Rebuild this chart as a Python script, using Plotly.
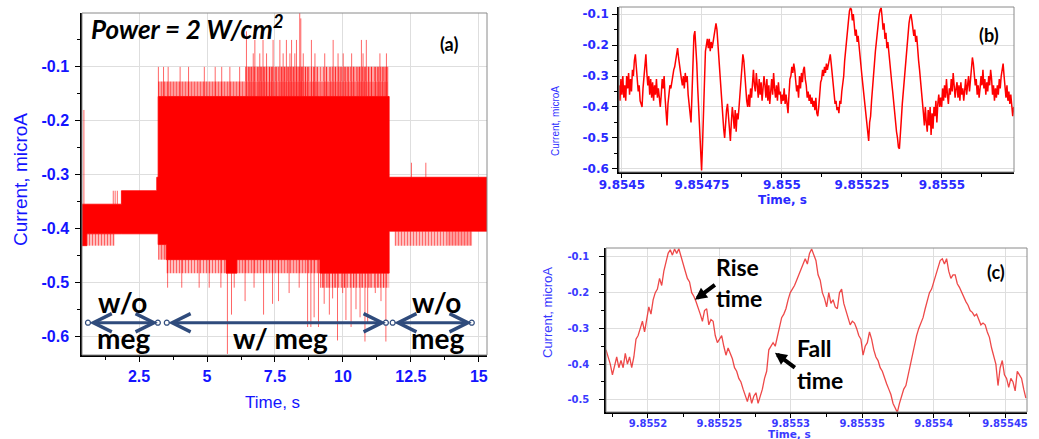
import numpy as np
import plotly.graph_objects as go

W, H = 1039, 439

# ---------------- (a) whole record at 2 W/cm^2 ----------------
# solid envelope of the current trace, as steps starting at each x
a_band_x = [0.40, 0.58, 1.85, 3.15, 3.20, 3.50, 5.70, 6.10, 9.15, 11.70, 15.30]
a_band_top = [-0.355, -0.355, -0.330, -0.305, -0.155, -0.155, -0.155, -0.155, -0.155, -0.305, -0.305]
a_band_bot = [-0.432, -0.410, -0.410, -0.410, -0.430, -0.458, -0.483, -0.458, -0.483, -0.405, -0.405]

# zones densely crossed by short excursions beyond the solid envelope
a_haze_x0 = [3.20, 6.40, 6.40, 8.80, 9.60, 3.20, 3.50, 6.10, 9.15, 0.58, 11.90, 13.80]
a_haze_x1 = [6.40, 11.65, 8.80, 9.60, 11.65, 3.50, 5.70, 9.15, 11.70, 1.60, 13.80, 14.75]
a_haze_lo = [-0.155, -0.155, -0.127, -0.127, -0.127, -0.458, -0.483, -0.483, -0.510, -0.432, -0.432, -0.432]
a_haze_hi = [-0.127, -0.127, -0.100, -0.100, -0.100, -0.430, -0.458, -0.458, -0.483, -0.410, -0.405, -0.405]
a_haze_alpha = [0.60, 0.85, 0.55, 0.30, 0.50, 0.50, 0.35, 0.50, 0.30, 0.35, 0.30, 0.60]

# isolated spikes (time, extreme current)
a_spike_x = [0.47, 1.55, 1.62, 1.70, 12.52, 13.05,
             3.21, 3.40, 3.57, 4.01, 4.32, 4.90, 5.30, 5.54, 5.84, 6.20, 6.55, 6.62, 6.88, 7.00,
             7.12, 7.30, 7.37, 7.55, 7.75, 7.86, 8.00, 8.17, 8.35, 8.48, 8.62, 8.70, 8.92, 9.05,
             9.40, 9.55, 9.72, 9.90, 10.10, 10.20, 10.40, 10.55, 10.62, 10.80, 10.95, 11.05, 11.20,
             11.30, 11.45, 11.55, 11.65,
             6.70, 6.94, 7.19, 7.80, 8.05, 8.23, 8.54, 8.97, 9.33, 9.82, 10.01, 10.32, 10.74, 11.36, 11.60,
             6.76, 7.06, 7.43, 7.68, 7.92, 8.11, 8.29, 8.84, 9.64, 10.68, 10.86,
             6.45, 8.41, 8.45,
             3.55, 4.07, 4.71, 5.08, 5.51, 5.75, 5.90, 6.00, 6.40, 6.73, 7.08, 7.41, 7.63, 8.02, 8.39,
             8.70, 8.82, 8.94, 9.10, 9.31, 9.50, 9.62, 9.80, 9.99, 10.11, 10.30, 10.48, 10.63, 10.81,
             10.91, 11.19, 11.40, 11.58, 9.25, 9.45, 9.70, 10.05, 10.40, 10.70, 11.00, 11.30, 11.50]
a_spike_tip = [-0.18, -0.33, -0.33, -0.33, -0.278, -0.278,
               -0.10, -0.10, -0.10, -0.10, -0.10, -0.10, -0.10, -0.10, -0.10, -0.10, -0.10, -0.10, -0.10, -0.10,
               -0.10, -0.10, -0.10, -0.10, -0.10, -0.10, -0.10, -0.10, -0.10, -0.10, -0.10, -0.10, -0.10, -0.10,
               -0.10, -0.10, -0.10, -0.10, -0.10, -0.10, -0.10, -0.10, -0.10, -0.10, -0.10, -0.10, -0.10,
               -0.10, -0.10, -0.10, -0.10,
               -0.075, -0.075, -0.075, -0.075, -0.075, -0.075, -0.075, -0.075, -0.075, -0.075, -0.075, -0.075,
               -0.075, -0.075, -0.075,
               -0.05, -0.05, -0.05, -0.05, -0.05, -0.05, -0.05, -0.05, -0.05, -0.05, -0.05,
               -0.034, 0.0, -0.01,
               -0.51, -0.51, -0.51, -0.51, -0.51, -0.633, -0.56, -0.51, -0.535, -0.51, -0.56, -0.54, -0.535,
               -0.52, -0.51, -0.583, -0.583, -0.565, -0.583, -0.54, -0.56, -0.53, -0.608, -0.52, -0.57,
               -0.583, -0.55, -0.565, -0.61, -0.575, -0.52, -0.535, -0.61,
               -0.51, -0.51, -0.51, -0.51, -0.51, -0.51, -0.51, -0.51, -0.51]

a_xticks = [2.5, 5, 7.5, 10, 12.5, 15]
a_xlabels = ["2.5", "5", "7.5", "10", "12.5", "15"]
a_xminor = [1.25, 3.75, 6.25, 8.75, 11.25, 13.75]
a_yticks = [-0.1, -0.2, -0.3, -0.4, -0.5, -0.6]
a_ylabels = ["-0.1", "-0.2", "-0.3", "-0.4", "-0.5", "-0.6"]
a_yminor = [-0.05, -0.15, -0.25, -0.35, -0.45, -0.55]

# phases of the record: (start, end) in seconds
a_phase_start = [0.62, 3.52, 11.83]
a_phase_end = [3.19, 11.58, 14.74]
a_phase_level = -0.575

# ---------------- (b) zoom, 3 us sampling ----------------
b_t0 = 9.854491
b_dt = 3e-6
b_current = [
    -0.33, -0.38, -0.31, -0.36, -0.30, -0.37, -0.33, -0.38, -0.30, -0.34,
    -0.29, -0.36, -0.31, -0.35, -0.28, -0.30, -0.25, -0.23, -0.27, -0.30,
    -0.35, -0.33, -0.38, -0.39, -0.40, -0.34, -0.30, -0.26, -0.23, -0.29,
    -0.33, -0.30, -0.36, -0.31, -0.37, -0.32, -0.38, -0.33, -0.36, -0.31,
    -0.37, -0.34, -0.38, -0.40, -0.36, -0.31, -0.34, -0.30, -0.37, -0.41,
    -0.46, -0.39, -0.35, -0.33, -0.34, -0.31, -0.30, -0.28, -0.27, -0.25,
    -0.22, -0.21, -0.24, -0.27, -0.29, -0.31, -0.33, -0.30, -0.34, -0.29,
    -0.32, -0.30, -0.36, -0.40, -0.44, -0.45, -0.36, -0.25, -0.17,
    -0.155, -0.20, -0.26, -0.34, -0.41, -0.47, -0.53, -0.605, -0.52, -0.40,
    -0.27, -0.22, -0.20, -0.18, -0.21, -0.18, -0.22, -0.19, -0.21, -0.19,
    -0.17, -0.15, -0.13, -0.15, -0.20, -0.24, -0.28, -0.33, -0.38, -0.43,
    -0.47, -0.50, -0.45, -0.41, -0.39, -0.44, -0.49, -0.51, -0.45, -0.40,
    -0.43, -0.47, -0.41, -0.48, -0.42, -0.44, -0.40, -0.36, -0.30, -0.26,
    -0.23, -0.25, -0.30, -0.33, -0.38, -0.40, -0.36, -0.40, -0.34,
    -0.37, -0.31, -0.28, -0.33, -0.35, -0.29, -0.33, -0.37, -0.31, -0.36,
    -0.32, -0.38, -0.34, -0.30, -0.33, -0.37, -0.31, -0.38, -0.33, -0.39,
    -0.35, -0.31, -0.36, -0.29, -0.34, -0.37, -0.33, -0.38, -0.32, -0.36,
    -0.35, -0.39, -0.36, -0.38, -0.34, -0.39, -0.36, -0.40, -0.42, -0.36,
    -0.31, -0.30, -0.27, -0.29, -0.26, -0.28, -0.31, -0.35, -0.33, -0.37,
    -0.30, -0.34, -0.29, -0.32, -0.28, -0.27, -0.31, -0.33, -0.37, -0.35,
    -0.38, -0.36, -0.39, -0.37, -0.40, -0.38, -0.41, -0.37, -0.42, -0.43,
    -0.40, -0.35, -0.32, -0.31, -0.28, -0.30, -0.27, -0.29, -0.26, -0.28,
    -0.26, -0.24, -0.23, -0.26, -0.30, -0.34, -0.37, -0.39, -0.38, -0.41,
    -0.40, -0.42, -0.38, -0.39, -0.35, -0.33, -0.30, -0.25, -0.21, -0.19,
    -0.15, -0.12, -0.09, -0.08, -0.085, -0.12, -0.10, -0.15, -0.17, -0.15,
    -0.19, -0.17, -0.21, -0.24, -0.27, -0.30, -0.33, -0.36, -0.38, -0.42,
    -0.45, -0.49, -0.51, -0.45, -0.43, -0.38, -0.33, -0.29, -0.26, -0.22,
    -0.19, -0.16, -0.12, -0.10, -0.085, -0.08, -0.11, -0.15, -0.13, -0.18,
    -0.16, -0.21, -0.19, -0.23, -0.27, -0.29, -0.32, -0.35, -0.39, -0.42,
    -0.45, -0.48, -0.50, -0.53, -0.535, -0.50, -0.44, -0.39, -0.35, -0.30,
    -0.26, -0.22, -0.19, -0.16, -0.13, -0.11, -0.10, -0.12, -0.14, -0.17,
    -0.15, -0.19, -0.17, -0.22, -0.25, -0.28, -0.31, -0.35, -0.39, -0.42,
    -0.46, -0.40, -0.45, -0.48, -0.41, -0.46, -0.40, -0.49, -0.42, -0.47,
    -0.40, -0.43, -0.38, -0.45, -0.39, -0.36, -0.40, -0.37, -0.40, -0.34,
    -0.38, -0.33, -0.37, -0.31, -0.36, -0.39, -0.34, -0.36, -0.31, -0.35,
    -0.29, -0.33, -0.37, -0.34, -0.32, -0.37, -0.33, -0.38, -0.32, -0.36,
    -0.34, -0.38, -0.35, -0.31, -0.36, -0.33, -0.30, -0.35, -0.32, -0.27,
    -0.24, -0.26, -0.30, -0.33, -0.31, -0.36, -0.33, -0.37, -0.34, -0.30,
    -0.33, -0.28, -0.34, -0.31, -0.36, -0.32, -0.35, -0.30, -0.33, -0.28,
    -0.31, -0.36, -0.33, -0.38, -0.34, -0.37, -0.33, -0.36, -0.31, -0.34,
    -0.30, -0.27, -0.26, -0.30, -0.34, -0.37, -0.33, -0.38, -0.35, -0.39,
    -0.36, -0.41, -0.43, -0.40,
]
b_xticks = [9.8545, 9.85475, 9.855, 9.85525, 9.8555]
b_xlabels = ["9.8545", "9.85475", "9.855", "9.85525", "9.8555"]
b_xminor = [9.854625, 9.854875, 9.855125, 9.855375, 9.855625]
b_yticks = [-0.1, -0.2, -0.3, -0.4, -0.5, -0.6]
b_ylabels = ["-0.1", "-0.2", "-0.3", "-0.4", "-0.5", "-0.6"]
b_yminor = [-0.15, -0.25, -0.35, -0.45, -0.55]

# ---------------- (c) closer zoom, 1.5 us sampling ----------------
c_t0 = 9.8551706
c_dt = 1.5e-6
c_current = [
    -0.36, -0.38, -0.40, -0.43, -0.40, -0.38, -0.41, -0.39, -0.41, -0.37,
    -0.40, -0.38, -0.41, -0.38, -0.33, -0.32, -0.30, -0.28, -0.31, -0.28,
    -0.24, -0.26, -0.22, -0.20, -0.19, -0.16, -0.18, -0.14, -0.11, -0.09,
    -0.08, -0.095, -0.078, -0.09, -0.077, -0.10, -0.12, -0.14, -0.16, -0.17,
    -0.20, -0.21, -0.225, -0.24, -0.26, -0.28, -0.25, -0.245, -0.29, -0.275,
    -0.28, -0.32, -0.34, -0.33, -0.32, -0.35, -0.375, -0.355, -0.37, -0.385,
    -0.41, -0.42, -0.44, -0.45, -0.47, -0.49, -0.505, -0.48, -0.51, -0.49,
    -0.48, -0.51, -0.49, -0.47, -0.44, -0.42, -0.36, -0.35, -0.34, -0.35,
    -0.32, -0.30, -0.27, -0.26, -0.245, -0.22, -0.20, -0.19, -0.18, -0.165,
    -0.15, -0.14, -0.125, -0.105, -0.12, -0.09, -0.078, -0.097, -0.11, -0.15,
    -0.165, -0.20, -0.216, -0.24, -0.20, -0.23, -0.22, -0.24, -0.245, -0.20,
    -0.19, -0.23, -0.25, -0.27, -0.29, -0.28, -0.285, -0.30, -0.32, -0.33,
    -0.375, -0.35, -0.34, -0.31, -0.33, -0.36, -0.38, -0.39, -0.41, -0.42,
    -0.44, -0.455, -0.47, -0.485, -0.51, -0.525, -0.535, -0.51, -0.49, -0.47,
    -0.46, -0.43, -0.40, -0.375, -0.34, -0.32, -0.30, -0.285, -0.27, -0.245,
    -0.22, -0.20, -0.19, -0.17, -0.15, -0.125, -0.11, -0.105, -0.12, -0.105,
    -0.14, -0.16, -0.15, -0.15, -0.175, -0.185, -0.20, -0.21, -0.225, -0.235,
    -0.25, -0.255, -0.265, -0.26, -0.275, -0.29, -0.285, -0.29, -0.31, -0.325,
    -0.355, -0.38, -0.40, -0.46, -0.41, -0.39, -0.43, -0.44, -0.465, -0.44,
    -0.45, -0.475, -0.42, -0.43, -0.44, -0.47, -0.495,
]
c_xticks = [9.8552, 9.85525, 9.8553, 9.85535, 9.8554, 9.85545]
c_xlabels = ["9.8552", "9.85525", "9.8553", "9.85535", "9.8554", "9.85545"]
c_xminor = [9.855175, 9.855225, 9.855275, 9.855325, 9.855375, 9.855425]
c_yticks = [-0.1, -0.2, -0.3, -0.4, -0.5]
c_ylabels = ["-0.1", "-0.2", "-0.3", "-0.4", "-0.5"]
c_yminor = [-0.15, -0.25, -0.35, -0.45]

# callouts on (c): arrow tip (t, I) and arrow tail (t, I)
c_call_tip_t = [9.8552329, 9.8552889]
c_call_tip_i = [-0.220, -0.368]
c_call_tail_t = [9.8552479, 9.8553039]
c_call_tail_i = [-0.175, -0.413]


def px(x):
    return x / W


def py(y):
    return 1 - y / H


fig = go.Figure()

# ---- panel (a) ----
fig.add_trace(go.Scatter(x=a_band_x, y=a_band_bot, mode="lines",
                         line=dict(color="#ff0000", width=0.8, shape="hv"),
                         xaxis="x", yaxis="y", hoverinfo="skip"))
fig.add_trace(go.Scatter(x=a_band_x, y=a_band_top, mode="lines",
                         line=dict(color="#ff0000", width=0.8, shape="hv"),
                         fill="tonexty", fillcolor="#ff0000",
                         xaxis="x", yaxis="y", hoverinfo="skip"))
for x0, x1, lo, hi, al in zip(a_haze_x0, a_haze_x1, a_haze_lo, a_haze_hi, a_haze_alpha):
    fig.add_trace(go.Scatter(x=[x0, x1, x1, x0, x0], y=[lo, lo, hi, hi, lo],
                             mode="lines", line=dict(width=0), fill="toself",
                             fillcolor="rgba(255,255,255,0)",
                             fillpattern=dict(shape="|", size=3, solidity=al,
                                              fgcolor="#ff0000",
                                              bgcolor="rgba(255,0,0,0.25)"),
                             xaxis="x", yaxis="y", hoverinfo="skip"))

band_x = np.array(a_band_x)
band_top = np.array(a_band_top)
band_bot = np.array(a_band_bot)
sx, sy = [], []
for x, tip in zip(a_spike_x, a_spike_tip):
    k = int(np.searchsorted(band_x, x, side="right") - 1)
    base = band_top[k] if tip > band_top[k] else band_bot[k]
    sx += [x, x, None]
    sy += [base, tip, None]
fig.add_trace(go.Scatter(x=sx, y=sy, mode="lines",
                         line=dict(color="rgba(255,0,0,0.6)", width=1),
                         xaxis="x", yaxis="y", hoverinfo="skip"))

# phase markers: double arrows with small end rings
ring_x = []
for x0, x1 in zip(a_phase_start, a_phase_end):
    ring_x += [x0, x1]
fig.add_trace(go.Scatter(x=ring_x, y=[a_phase_level] * len(ring_x), mode="markers",
                         marker=dict(symbol="circle", size=5, color="white",
                                     line=dict(color="#2f4b7c", width=1.2)),
                         xaxis="x", yaxis="y", hoverinfo="skip"))

# ---- panel (b) ----
b_t = b_t0 + b_dt * np.arange(len(b_current))
fig.add_trace(go.Scatter(x=b_t, y=b_current, mode="lines",
                         line=dict(color="#ff0000", width=1.5),
                         xaxis="x2", yaxis="y2", hoverinfo="skip"))

# ---- panel (c) ----
c_t = c_t0 + c_dt * np.arange(len(c_current))
fig.add_trace(go.Scatter(x=c_t, y=c_current, mode="lines",
                         line=dict(color="rgba(235,40,40,0.85)", width=1.3),
                         xaxis="x3", yaxis="y3", hoverinfo="skip"))

BLUE = "#1414ff"
GRID = "#dedede"


def axis(domain, rng, tv, tt, minor, font, anchor, standoff, ticklen=5):
    return dict(domain=domain, range=rng, anchor=anchor, automargin=False,
                tickmode="array", tickvals=tv, ticktext=tt,
                ticks="outside", ticklen=ticklen, tickwidth=1.2, tickcolor="black",
                minor=dict(tickmode="array", tickvals=minor, ticks="outside",
                           ticklen=3, tickcolor="black", showgrid=False),
                showline=True, linecolor="black", linewidth=1.5,
                showgrid=True, gridcolor=GRID, gridwidth=1,
                zeroline=False, tickfont=font, ticklabelstandoff=standoff,
                fixedrange=True)


fa = dict(family="Liberation Sans, Arial", size=16, color=BLUE, weight="bold")
fb = dict(family="DejaVu Sans", size=12, color="#2a2aff", weight="bold")
fc = dict(family="DejaVu Sans", size=10, color="#3a3aff", weight="bold")

fig.update_layout(
    width=W, height=H, margin=dict(l=0, r=0, t=0, b=0, autoexpand=False),
    paper_bgcolor="white", plot_bgcolor="white", showlegend=False,
    xaxis=axis([82 / W, 487 / W], [0.4, 15.3], a_xticks, a_xlabels, a_xminor, fa, "y", 1),
    yaxis=axis([1 - 355 / H, 1 - 13 / H], [-0.635, 0.0], a_yticks, a_ylabels, a_yminor, fa, "x", 3),
    xaxis2=axis([619 / W, 1014 / W], [9.854491, 9.855725], b_xticks, b_xlabels, b_xminor, fb, "y2", -3, 4),
    yaxis2=axis([1 - 172 / H, 1 - 7 / H], [-0.61, -0.077], b_yticks, b_ylabels, b_yminor, fb, "x2", 1),
    xaxis3=axis([606 / W, 1027 / W], [9.8551706, 9.8554654], c_xticks, c_xlabels, c_xminor, fc, "y3", -3, 4),
    yaxis3=axis([1 - 412 / H, 1 - 248 / H], [-0.534, -0.075], c_yticks, c_ylabels, c_yminor, fc, "x3", 8),
)

# thin grey frame around each plot area
for xr, yr in [("x", "y"), ("x2", "y2"), ("x3", "y3")]:
    fig.add_shape(type="rect", xref=f"{xr} domain", yref=f"{yr} domain",
                  x0=0, x1=1, y0=0, y1=1, line=dict(color="#8a8a8a", width=1),
                  layer="above")

ann = []
# axis titles
ann.append(dict(text="Current, microA", x=px(20), y=py(180), textangle=-90,
                font=dict(family="Liberation Sans, Arial", size=19, color=BLUE)))
ann.append(dict(text="Time, s", x=px(272), y=py(402),
                font=dict(family="Liberation Sans, Arial", size=17, color=BLUE)))
ann.append(dict(text="Current, microA", x=px(555), y=py(121), textangle=-90,
                font=dict(family="Liberation Sans, Arial", size=10, color="#3030ff")))
ann.append(dict(text="Time, s", x=px(782), y=py(200),
                font=dict(family="DejaVu Sans", size=12, color="#2a2aff", weight="bold")))
ann.append(dict(text="Current, microA", x=px(547), y=py(313), textangle=-90,
                font=dict(family="Liberation Sans, Arial", size=13, color="#3a3aff")))
ann.append(dict(text="Time, s", x=px(789), y=py(433.5),
                font=dict(family="DejaVu Sans", size=10.5, color="#3a3aff", weight="bold")))

# panel tags and headline
black_bold = dict(family="Lato, Open Sans", color="black", weight="bold")
ann.append(dict(text="<i>Power = 2 W/cm<sup>2</sup></i>", x=px(89), y=py(27), xanchor="left",
                font=dict(black_bold, size=26)))
ann.append(dict(text="(a)", x=px(449), y=py(44), font=dict(black_bold, size=18)))
ann.append(dict(text="(b)", x=px(989), y=py(35), font=dict(black_bold, size=18)))
ann.append(dict(text="(c)", x=px(996), y=py(272), font=dict(black_bold, size=18)))

# phase labels
ann.append(dict(text="w/o", x=px(122), y=py(302), font=dict(black_bold, size=28)))
ann.append(dict(text="meg", x=px(123), y=py(338), font=dict(black_bold, size=28)))
ann.append(dict(text="w/ meg", x=px(280), y=py(338), font=dict(black_bold, size=28)))
ann.append(dict(text="w/o", x=px(436), y=py(302), font=dict(black_bold, size=28)))
ann.append(dict(text="meg", x=px(437), y=py(338), font=dict(black_bold, size=28)))

# rise / fall callouts
ann.append(dict(text="Rise", x=px(737), y=py(267), font=dict(black_bold, size=23)))
ann.append(dict(text="time", x=px(739), y=py(298), font=dict(black_bold, size=23)))
ann.append(dict(text="Fall", x=px(814), y=py(348), font=dict(black_bold, size=23)))
ann.append(dict(text="time", x=px(820), y=py(380), font=dict(black_bold, size=23)))

for a in ann:
    a.setdefault("xref", "paper")
    a.setdefault("yref", "paper")
    a.setdefault("showarrow", False)
    a.setdefault("xanchor", "center")
    a.setdefault("yanchor", "middle")
    fig.add_annotation(**a)

for x0, x1 in zip(a_phase_start, a_phase_end):
    fig.add_annotation(x=x1, y=a_phase_level, ax=x0, ay=a_phase_level,
                       xref="x", yref="y", axref="x", ayref="y", text="",
                       showarrow=True, arrowside="end+start",
                       arrowhead=5, startarrowhead=5, arrowsize=1.2, startarrowsize=1.2,
                       arrowwidth=3, arrowcolor="#2f4b7c")

for tt, ti, at, ai in zip(c_call_tip_t, c_call_tip_i, c_call_tail_t, c_call_tail_i):
    fig.add_annotation(x=tt, y=ti, ax=at, ay=ai, xref="x3", yref="y3",
                       axref="x3", ayref="y3", text="", showarrow=True,
                       arrowhead=2, arrowsize=0.6, arrowwidth=4, arrowcolor="black")

fig.write_html("out.html")
